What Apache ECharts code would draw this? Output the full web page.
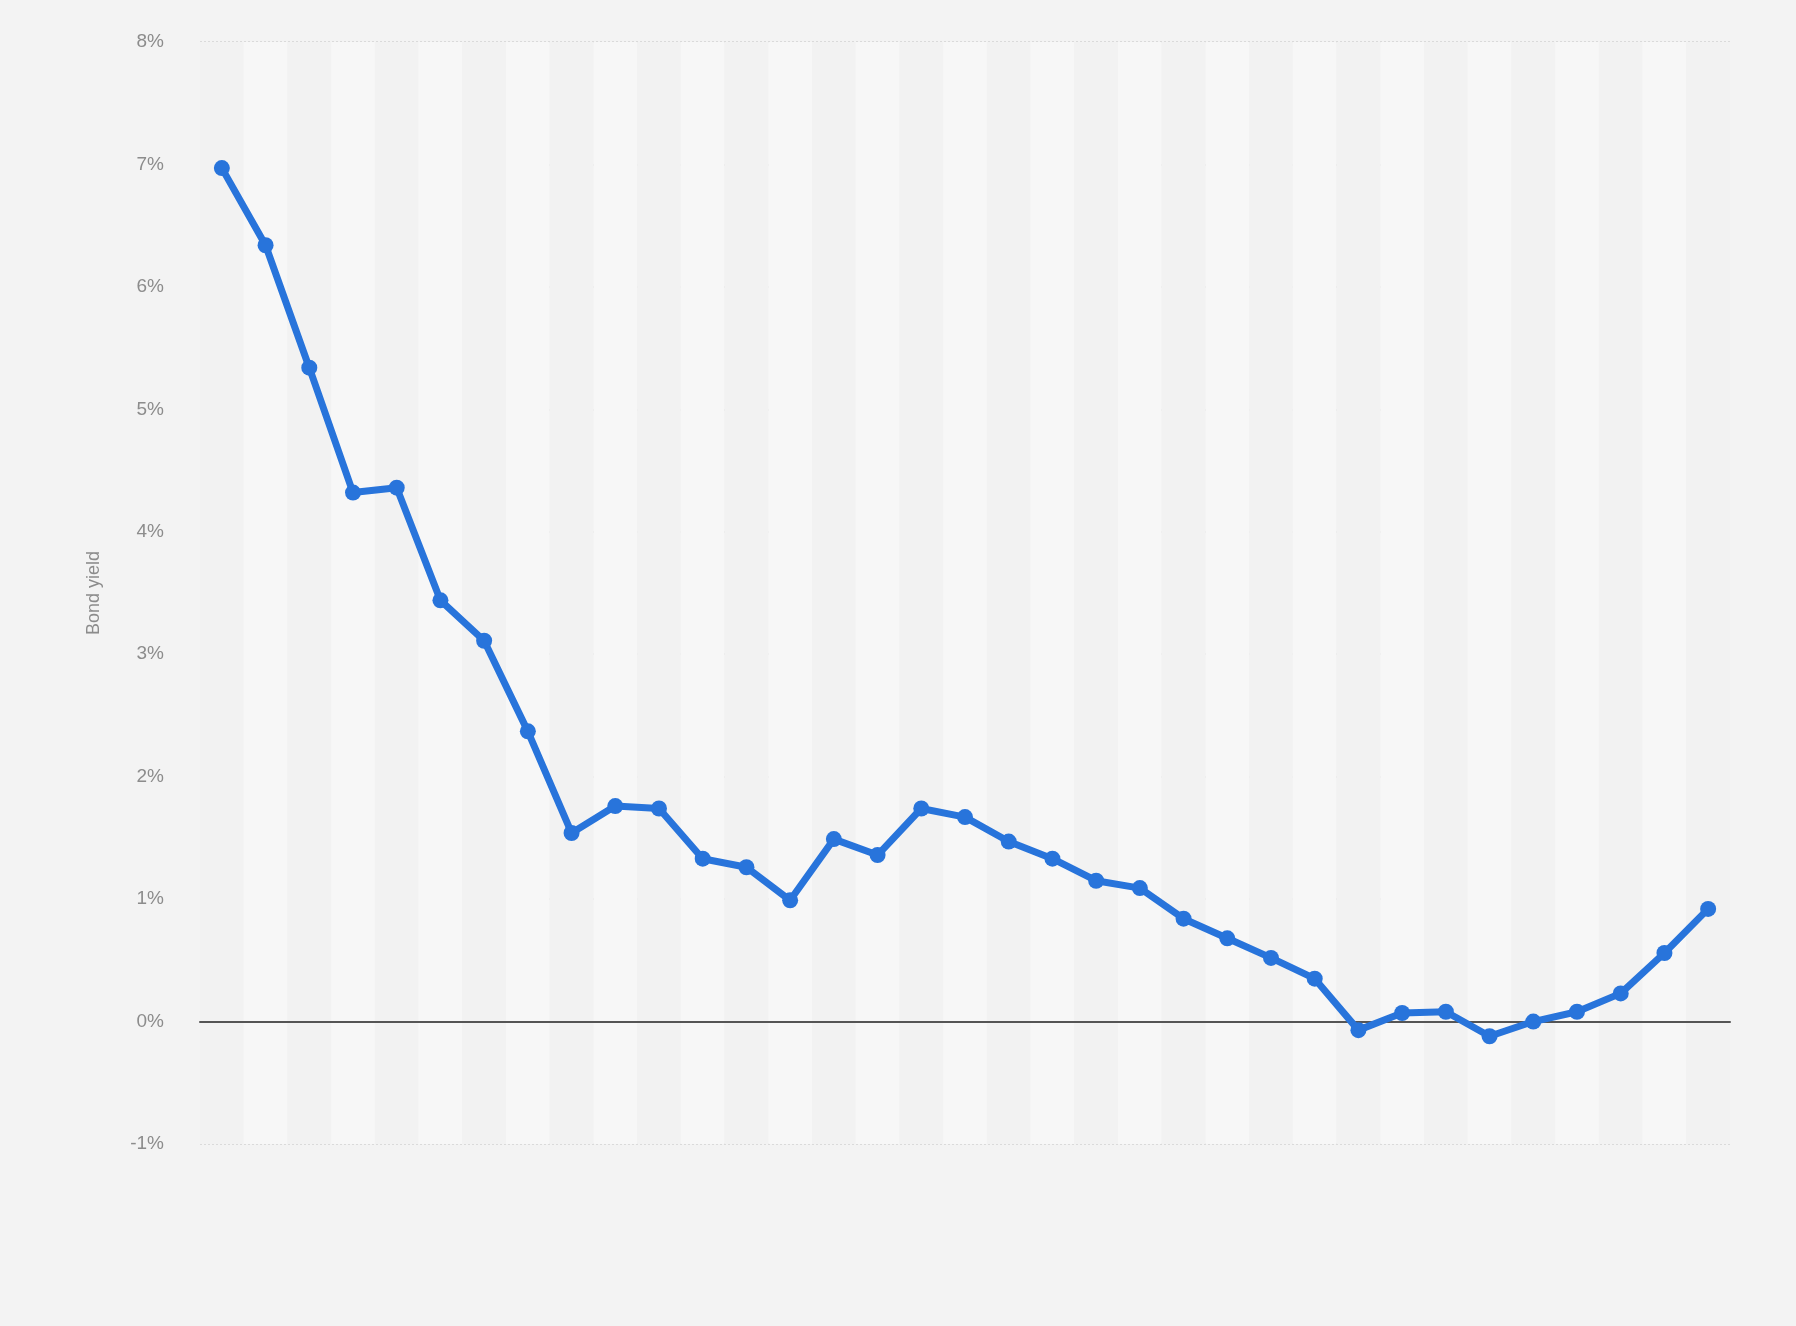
<!DOCTYPE html>
<html>
<head>
<meta charset="utf-8">
<script src="https://cdn.jsdelivr.net/npm/echarts@6/dist/echarts.min.js"></script>
<style>
html,body{margin:0;padding:0;background:#f3f3f3;}
#chart{width:1796px;height:1326px;}
</style>
</head>
<body>
<div id="chart"></div>
<script>
const years = ['1990','1991','1992','1993','1994','1995','1996','1997','1998','1999','2000','2001','2002','2003','2004','2005','2006','2007','2008','2009','2010','2011','2012','2013','2014','2015','2016','2017','2018','2019','2020','2021','2022','2023','2024'];
const bondYield = [6.97,6.34,5.34,4.32,4.36,3.44,3.11,2.37,1.54,1.76,1.74,1.33,1.26,0.99,1.49,1.36,1.74,1.67,1.47,1.33,1.15,1.09,0.84,0.68,0.52,0.35,-0.07,0.07,0.08,-0.12,0.00,0.08,0.23,0.56,0.92];
const yTicks = {min:-1, max:8, step:1};
const yAxisTitle = 'Bond yield';

const chart = echarts.init(document.getElementById('chart'));
chart.setOption({
  backgroundColor:'#f3f3f3',
  animation:false,
  grid:{left:200, right:66, top:42, bottom:182},
  xAxis:{
    type:'category',
    data:years,
    boundaryGap:true,
    axisLine:{show:true, onZero:true, lineStyle:{color:'#555555', width:2}},
    axisTick:{show:false},
    axisLabel:{show:false},
    splitLine:{show:false},
    splitArea:{show:true, areaStyle:{color:['#f2f2f2','#f7f7f7']}}
  },
  yAxis:{
    type:'value',
    min:yTicks.min, max:yTicks.max, interval:yTicks.step,
    name:yAxisTitle,
    nameLocation:'middle',
    nameRotate:90,
    nameGap:97,
    nameTextStyle:{color:'#8c8c8c', fontSize:18, fontFamily:'Liberation Sans'},
    axisLine:{show:false},
    axisTick:{show:false},
    axisLabel:{formatter:'{value}%', color:'#8c8c8c', fontSize:19, fontFamily:'Liberation Sans', margin:36},
    splitLine:{show:true, lineStyle:{color:'#dadada', type:'dotted', width:2}}
  },
  series:[{
    type:'line',
    data:bondYield,
    symbol:'circle',
    symbolSize:16,
    lineStyle:{color:'#2874db', width:7},
    itemStyle:{color:'#2874db'},
    z:5
  }]
});
</script>
</body>
</html>
